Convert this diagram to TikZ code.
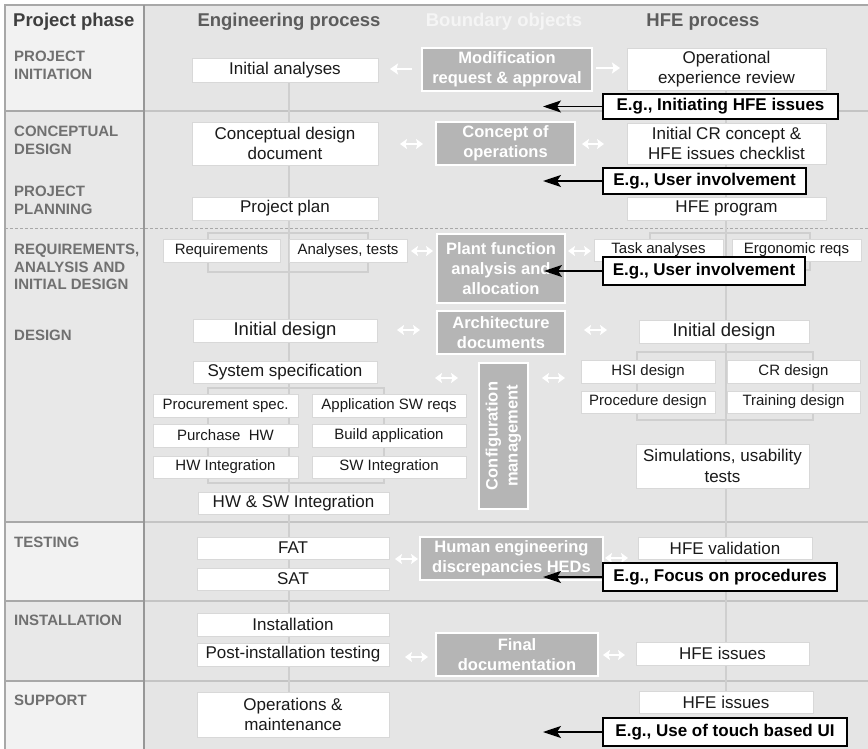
\documentclass[tikz,border=0pt]{standalone}
\usepackage{fontspec}
\setmainfont{Liberation Sans}
\usetikzlibrary{arrows.meta}
\newcommand\tsz[2]{\fontsize{#1}{#2}\selectfont}

\definecolor{mainbg}{HTML}{E5E5E5}
\definecolor{cellA}{HTML}{F2F2F2}
\definecolor{cellB}{HTML}{E8E8E8}
\definecolor{rulelt}{HTML}{C4C4C4}
\definecolor{ruledk}{HTML}{A8A8A8}
\definecolor{procln}{HTML}{CFCFCF}
\definecolor{boxln}{HTML}{D8D8D8}
\definecolor{bofill}{HTML}{B5B5B5}
\definecolor{phasegray}{HTML}{707070}
\definecolor{hdrdark}{HTML}{3F3F3F}
\definecolor{hdrgray}{HTML}{5C5C5C}
\definecolor{boxtext}{HTML}{1A1A1A}

\pgfdeclarelayer{back}
\pgfsetlayers{back,main}

\begin{document}
\begin{tikzpicture}[x=1pt,y=-1pt,
  ebox/.style={draw=boxln, line width=0.8pt, fill=white, inner sep=0pt,
    align=center, text=boxtext, font=\tsz{17}{20.5}},
  sbox/.style={ebox, font=\tsz{15}{18}},
  lbox/.style={ebox, font=\tsz{18.5}{21}},
  bobox/.style={draw=white, line width=2pt, fill=bofill, inner sep=0pt,
    align=center, text=white, font=\bfseries\tsz{16.5}{20}},
  egbox/.style={draw=black, line width=1.8pt, fill=white, inner sep=0pt,
    align=center, text=black, font=\bfseries\tsz{17}{20}},
  egarrow/.style={draw=black, line width=1.4pt,
    -{Stealth[length=18pt,width=12pt,inset=4pt]}},
  bracketbox/.style={draw=procln, line width=2.4pt, inner sep=0pt},
  procline/.style={draw=procln, line width=2pt},
  wboth/.style={draw=white, line width=2.2pt,
    {Stealth[length=7pt,width=10pt,inset=1.5pt]}-{Stealth[length=7pt,width=10pt,inset=1.5pt]}},
  wone/.style={draw=white, line width=2.2pt,
    -{Stealth[length=8pt,width=11pt,inset=1.5pt]}},
  phase/.style={anchor=west, align=left, inner sep=0pt, text=phasegray,
    font=\bfseries\tsz{15}{17.5}},
  hdr/.style={anchor=base, inner sep=0pt, font=\bfseries\tsz{18.5}{22}}
]
\useasboundingbox (0,0) rectangle (868,749);

% ---------- table background ----------
\begin{pgfonlayer}{back}
  \fill[white] (0,0) rectangle (868,749);
  \fill[mainbg] (144,5) rectangle (868,749);
  \fill[cellA] (5,5) rectangle (144,111);
  \fill[cellB] (5,111) rectangle (144,228);
  \fill[cellB] (5,228) rectangle (144,522);
  \fill[cellA] (5,522) rectangle (144,601);
  \fill[cellB] (5,601) rectangle (144,681);
  \fill[cellA] (5,681) rectangle (144,749);
  % phase separators
  \foreach \yy in {111,522,601,681} {
    \draw[ruledk, line width=1.2pt] (5,\yy) -- (144,\yy);
    \draw[rulelt, line width=1.2pt] (144,\yy) -- (868,\yy);
  }
  \draw[ruledk, line width=0.8pt, dash pattern=on 3pt off 2pt] (5,228) -- (868,228);
  % frame
  \draw[ruledk, line width=1.2pt] (5,749) -- (5,5) -- (868,5);
  \draw[ruledk!90!black, line width=1.5pt] (144,5) -- (144,749);
\end{pgfonlayer}

% ---------- headers ----------
\node[hdr, anchor=base west, text=hdrdark] (hphase) at (13,26.5) {Project phase};
\node[hdr, text=hdrgray] (heng) at (289,26.5) {Engineering process};
\node[hdr, text=white!96!black] (hbound) at (504,26.5) {Boundary objects};
\node[hdr, text=hdrgray] (hhfe) at (703,26.5) {HFE process};

% ---------- project phases ----------
\node[phase] (p1) at (14,65.5) {PROJECT\\INITIATION};
\node[phase] (p2) at (14,140.5) {CONCEPTUAL\\DESIGN};
\node[phase] (p3) at (14,200.5) {PROJECT\\PLANNING};
\node[phase] (p4) at (14,267) {REQUIREMENTS,\\ANALYSIS AND\\INITIAL DESIGN};
\node[phase] (p5) at (14,335) {DESIGN};
\node[phase] (p6) at (14,542) {TESTING};
\node[phase] (p7) at (14,620) {INSTALLATION};
\node[phase] (p8) at (14,700) {SUPPORT};

% ---------- engineering process ----------
\node[ebox, minimum width=186, minimum height=24] (ia) at (285,70) {Initial analyses};
\node[ebox, minimum width=186, minimum height=43] (cdd) at (285,143.5) {Conceptual design\\document};
\node[ebox, minimum width=186, minimum height=23] (pp) at (285,208.5) {Project plan};
\node[sbox, minimum width=117, minimum height=23] (req) at (221.5,250.5) {Requirements};
\node[sbox, minimum width=118, minimum height=23] (ana) at (348,250.5) {Analyses, tests};
\node[lbox, minimum width=184, minimum height=23] (eid) at (285,330.5) {Initial design};
\node[ebox, minimum width=184, minimum height=22] (ss) at (285,372) {System specification};
\node[sbox, minimum width=145, minimum height=23] (proc) at (225.5,405.5) {Procurement spec.};
\node[sbox, minimum width=154, minimum height=23] (asw) at (389,405.5) {Application SW reqs};
\node[sbox, minimum width=145, minimum height=23] (phw) at (225.5,435.5) {Purchase\ \ HW};
\node[sbox, minimum width=154, minimum height=23] (bapp) at (389,435.5) {Build application};
\node[sbox, minimum width=145, minimum height=22] (hwi) at (225.5,467) {HW Integration};
\node[sbox, minimum width=154, minimum height=22] (swi) at (389,467) {SW Integration};
\node[ebox, minimum width=191, minimum height=22] (hwsw) at (293.5,503) {HW \& SW Integration};
\node[ebox, minimum width=192, minimum height=22] (fat) at (293,548) {FAT};
\node[ebox, minimum width=192, minimum height=22] (sat) at (293,579) {SAT};
\node[ebox, minimum width=192, minimum height=23] (inst) at (293,624.5) {Installation};
\node[ebox, minimum width=192, minimum height=23] (post) at (293,654.5) {Post-installation testing};
\node[ebox, minimum width=192, minimum height=45] (ops) at (293,714.5) {Operations \&\\maintenance};

% ---------- HFE process ----------
\node[ebox, minimum width=199, minimum height=42] (oer) at (726.5,69) {Operational\\experience review};
\node[ebox, minimum width=199, minimum height=41] (crc) at (726.5,143.5) {Initial CR concept \&\\HFE issues checklist};
\node[ebox, minimum width=199, minimum height=23] (hfep) at (726.5,208.5) {HFE program};
\node[sbox, minimum width=129, minimum height=22] (task) at (658.5,250) {Task analyses};
\node[sbox, minimum width=129, minimum height=22] (ergo) at (796.5,250) {Ergonomic reqs};
\node[lbox, minimum width=170, minimum height=23] (hid) at (724,331.5) {Initial design};
\node[sbox, minimum width=134, minimum height=23] (hsi) at (648,371.5) {HSI design};
\node[sbox, minimum width=133, minimum height=23] (crd) at (793.5,371.5) {CR design};
\node[sbox, minimum width=134, minimum height=22] (prd) at (648,402) {Procedure design};
\node[sbox, minimum width=133, minimum height=22] (trd) at (793.5,402) {Training design};
\node[ebox, minimum width=173, minimum height=44] (sim) at (722.5,466) {Simulations, usability\\tests};
\node[ebox, minimum width=174, minimum height=22] (hval) at (725,548) {HFE validation};
\node[ebox, minimum width=173, minimum height=23] (hiss1) at (722.5,653.5) {HFE issues};
\node[ebox, minimum width=174, minimum height=22] (hiss2) at (726,702) {HFE issues};

% ---------- process lines and groupings ----------
\coordinate (etop) at (289,82);
\coordinate (ebot) at (289,692);
\coordinate (htop) at (726,90);
\coordinate (hbot) at (726,691);
\begin{pgfonlayer}{back}
  \draw[procline] (etop) -- (ebot);
  \draw[procline] (htop) -- (hbot);
  \node[bracketbox, minimum width=160, minimum height=39] (grpE1) at (288,252.5) {};
  \node[bracketbox, minimum width=176, minimum height=95] (grpE2) at (296,435.5) {};
  \node[bracketbox, minimum width=160, minimum height=37] (grpH1) at (730,251.5) {};
  \node[bracketbox, minimum width=176, minimum height=68] (grpH2) at (725,386) {};
\end{pgfonlayer}

% ---------- boundary objects ----------
\node[bobox, minimum width=170, minimum height=43] (mod) at (507,69.5) {Modification\\request \& approval};
\node[bobox, minimum width=139, minimum height=43] (conops) at (505.5,143.5) {Concept of\\operations};
\node[bobox, minimum width=128, minimum height=69] (pfa) at (501,268.5) {Plant function\\analysis and\\allocation};
\node[bobox, minimum width=128, minimum height=43] (arch) at (501,332.5) {Architecture\\documents};
\node[bobox, minimum width=146, minimum height=49, rotate=90] (cm) at (503.5,436) {Configuration\\management};
\node[bobox, minimum width=183, minimum height=43] (hed) at (511.5,558.5) {Human engineering\\discrepancies HEDs};
\node[bobox, minimum width=162, minimum height=43] (fdoc) at (517,654.5) {Final\\documentation};

% ---------- exchange arrows ----------
\coordinate (w1a) at (412,69);  \coordinate (w1b) at (390,69);
\coordinate (w2a) at (596,68);  \coordinate (w2b) at (620,68);
\coordinate (w3a) at (400,144); \coordinate (w3b) at (423,144);
\coordinate (w4a) at (582,144); \coordinate (w4b) at (604,144);
\coordinate (w5a) at (411,251); \coordinate (w5b) at (433,251);
\coordinate (w6a) at (568,251); \coordinate (w6b) at (591,251);
\coordinate (w7a) at (397,330); \coordinate (w7b) at (420,330);
\coordinate (w8a) at (584,330); \coordinate (w8b) at (607,330);
\coordinate (w9a) at (435,378); \coordinate (w9b) at (458,378);
\coordinate (w10a) at (542,378); \coordinate (w10b) at (565,378);
\coordinate (w11a) at (395,559); \coordinate (w11b) at (418,559);
\coordinate (w12a) at (605,558); \coordinate (w12b) at (628,558);
\coordinate (w13a) at (405,657); \coordinate (w13b) at (428,657);
\coordinate (w14a) at (603,655); \coordinate (w14b) at (625,655);
\draw[wone] (w1a) -- (w1b);
\draw[wone] (w2a) -- (w2b);
\foreach \k in {3,...,14} { \draw[wboth] (w\k a) -- (w\k b); }

% ---------- examples ----------
\node[egbox, minimum width=235, minimum height=25] (eg1) at (720.5,106.5) {E.g., Initiating HFE issues};
\node[egbox, minimum width=203, minimum height=26] (eg2) at (704.5,181) {E.g., User involvement};
\node[egbox, minimum width=202, minimum height=28] (eg3) at (704,271) {E.g., User involvement};
\node[egbox, minimum width=234, minimum height=28] (eg4) at (720,577) {E.g., Focus on procedures};
\node[egbox, minimum width=244, minimum height=28] (eg5) at (725,732) {E.g., Use of touch based UI};
\coordinate (t1) at (543,106.5);
\coordinate (t2) at (543,181);
\coordinate (t3) at (544,271);
\coordinate (t4) at (543,577);
\coordinate (t5) at (543,732);
\foreach \k in {1,...,5} { \draw[egarrow] (eg\k.west) -- (t\k); }

\end{tikzpicture}
\end{document}
